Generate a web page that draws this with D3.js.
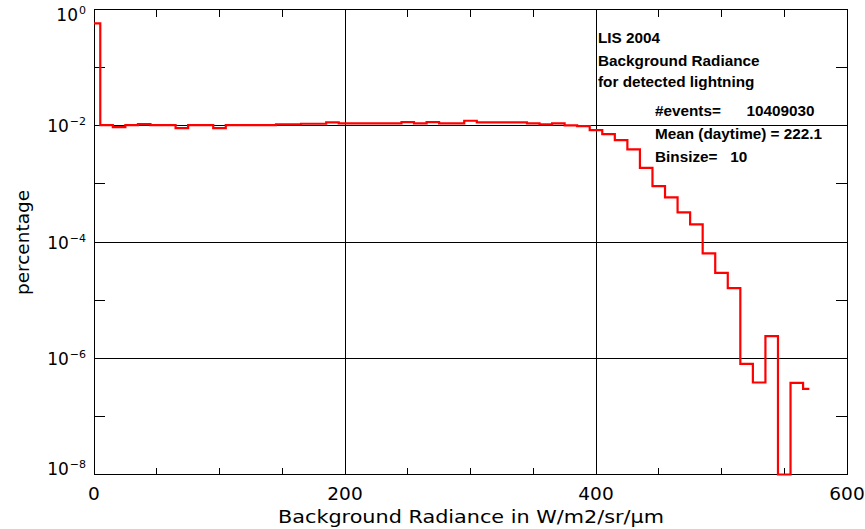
<!DOCTYPE html>
<html>
<head>
<meta charset="utf-8">
<script src="https://cdn.jsdelivr.net/npm/d3@7"></script>
<style>
  html, body { margin: 0; padding: 0; background: #fff; }
  svg { display: block; }
  text { fill: #000; }
</style>
</head>
<body>
<svg id="chart" width="865" height="529"></svg>
<script>
// Bin centres (W/m2/sr/um), binsize 10
const binCenters = [
  0, 10, 20, 30, 40, 50, 60, 70, 80, 90,
  100, 110, 120, 130, 140, 150, 160, 170, 180, 190,
  200, 210, 220, 230, 240, 250, 260, 270, 280, 290,
  300, 310, 320, 330, 340, 350, 360, 370, 380, 390,
  400, 410, 420, 430, 440, 450, 460, 470, 480, 490,
  500, 510, 520, 530, 540, 550, 560, 570
];
// Fraction of detected events per bin (0 = empty bin)
const percentage = [
  0.579, 0.01028, 0.0095, 0.01028, 0.0107, 0.01028, 0.01028, 0.00912, 0.01028, 0.01028,
  0.00912, 0.01028, 0.01028, 0.01028, 0.01028, 0.01057, 0.01057, 0.01082, 0.01082, 0.01145,
  0.01099, 0.01099, 0.01099, 0.01099, 0.01099, 0.01158, 0.01099, 0.01158, 0.01099, 0.01099,
  0.0122, 0.01145, 0.01145, 0.01145, 0.01145, 0.01099, 0.01057, 0.01099, 0.01016, 0.00988,
  0.00844, 0.0072, 0.00568, 0.00393, 0.00189, 0.000916, 0.000586, 0.000323, 0.000201, 6.37e-5,
  2.95e-5, 1.61e-5, 7.98e-7, 3.83e-7, 2.40e-6, 0, 3.77e-7, 2.97e-7
];
const xMajorTicks = [0, 200, 400, 600];
const xMinorTicks = [50, 100, 150, 250, 300, 350, 450, 500, 550];
const yMajorExponents = [0, -2, -4, -6, -8];
const yMinorExponents = [-1, -3, -5, -7];
const annotationLines = ["LIS 2004", "Background Radiance", "for detected lightning"];
const statLines = ["#events=      10409030", "Mean (daytime) = 222.1", "Binsize=   10"];
const xTitle = "Background Radiance in W/m2/sr/\u03bcm";
const yTitle = "percentage";

const svg = d3.select("#chart");
const plotLeft = 94, plotRight = 847, plotTop = 9.5, plotBottom = 474.5;

const x = d3.scaleLinear().domain([0, 600]).range([plotLeft, plotRight]);
const y = d3.scaleLog().domain([1e-8, 1]).range([plotBottom, plotTop]).clamp(true);

const ink = "#000";
const axisFont = "'DejaVu Sans', Verdana, sans-serif";
const noteFont = "'Liberation Sans', Arial, sans-serif";

// grid lines at major ticks
const grid = svg.append("g").attr("stroke", ink).attr("stroke-width", 1).attr("shape-rendering", "crispEdges");
xMajorTicks.filter(v => v > 0 && v < 600).forEach(v => {
  grid.append("line").attr("x1", x(v)).attr("x2", x(v)).attr("y1", plotTop).attr("y2", plotBottom);
});
yMajorExponents.filter(e => e < 0 && e > -8).forEach(e => {
  const v = Math.pow(10, e);
  grid.append("line").attr("x1", plotLeft).attr("x2", plotRight).attr("y1", y(v)).attr("y2", y(v));
});

// minor ticks on all four sides
const ticks = svg.append("g").attr("stroke", ink).attr("stroke-width", 1).attr("shape-rendering", "crispEdges");
xMinorTicks.forEach(v => {
  ticks.append("line").attr("x1", x(v)).attr("x2", x(v)).attr("y1", plotBottom).attr("y2", plotBottom - 7);
  ticks.append("line").attr("x1", x(v)).attr("x2", x(v)).attr("y1", plotTop).attr("y2", plotTop + 7);
});
yMinorExponents.forEach(e => {
  const v = Math.pow(10, e);
  ticks.append("line").attr("x1", plotLeft).attr("x2", plotLeft + 11).attr("y1", y(v)).attr("y2", y(v));
  ticks.append("line").attr("x1", plotRight).attr("x2", plotRight - 11).attr("y1", y(v)).attr("y2", y(v));
});

// frame
svg.append("rect")
  .attr("x", plotLeft).attr("y", plotTop)
  .attr("width", plotRight - plotLeft).attr("height", plotBottom - plotTop)
  .attr("fill", "none").attr("stroke", ink).attr("stroke-width", 1)
  .attr("shape-rendering", "crispEdges");

// histogram (centred steps)
const line = d3.line()
  .x((d, i) => x(binCenters[i]))
  .y(d => y(d))
  .curve(d3.curveStep);
svg.append("path")
  .datum(percentage)
  .attr("d", line)
  .attr("fill", "none")
  .attr("stroke", "#ff0000")
  .attr("stroke-width", 2.2)
  .attr("stroke-linejoin", "miter");

// x tick labels
svg.append("g").selectAll("text").data(xMajorTicks).join("text")
  .attr("x", d => x(d)).attr("y", 500)
  .attr("text-anchor", "middle")
  .attr("font-family", axisFont).attr("font-size", 18.5)
  .text(d => d);

// y tick labels (10^n)
const yl = svg.append("g").selectAll("text").data(yMajorExponents).join("text")
  .attr("x", 86)
  .attr("y", e => {
    let yy = y(Math.pow(10, e)) + 6.5;
    if (e === 0) yy += 5;
    if (e === -8) yy -= 6;
    return yy;
  })
  .attr("text-anchor", "end")
  .attr("font-family", axisFont).attr("font-size", 17);
yl.append("tspan").text("10");
yl.append("tspan").attr("dx", 1).attr("dy", -7).attr("font-size", 11)
  .text(e => e === 0 ? "0" : "\u2212" + Math.abs(e));

// axis titles
svg.append("text")
  .attr("x", 278).attr("y", 523)
  .attr("font-family", axisFont).attr("font-size", 17)
  .attr("textLength", 386).attr("lengthAdjust", "spacingAndGlyphs")
  .text(xTitle);
svg.append("text")
  .attr("transform", `translate(29, 295) rotate(-90)`)
  .attr("font-family", axisFont).attr("font-size", 17)
  .attr("textLength", 105).attr("lengthAdjust", "spacingAndGlyphs")
  .text(yTitle);

// annotation block
const ann = svg.append("g").attr("font-family", noteFont).attr("font-size", 15.3).attr("font-weight", "bold");
[43, 65.5, 87].forEach((yy, i) => {
  ann.append("text").attr("x", 598).attr("y", yy).text(annotationLines[i]);
});
[116, 139, 162].forEach((yy, i) => {
  ann.append("text").attr("x", 655).attr("y", yy)
    .style("white-space", "pre").attr("xml:space", "preserve").text(statLines[i]);
});
</script>
</body>
</html>
